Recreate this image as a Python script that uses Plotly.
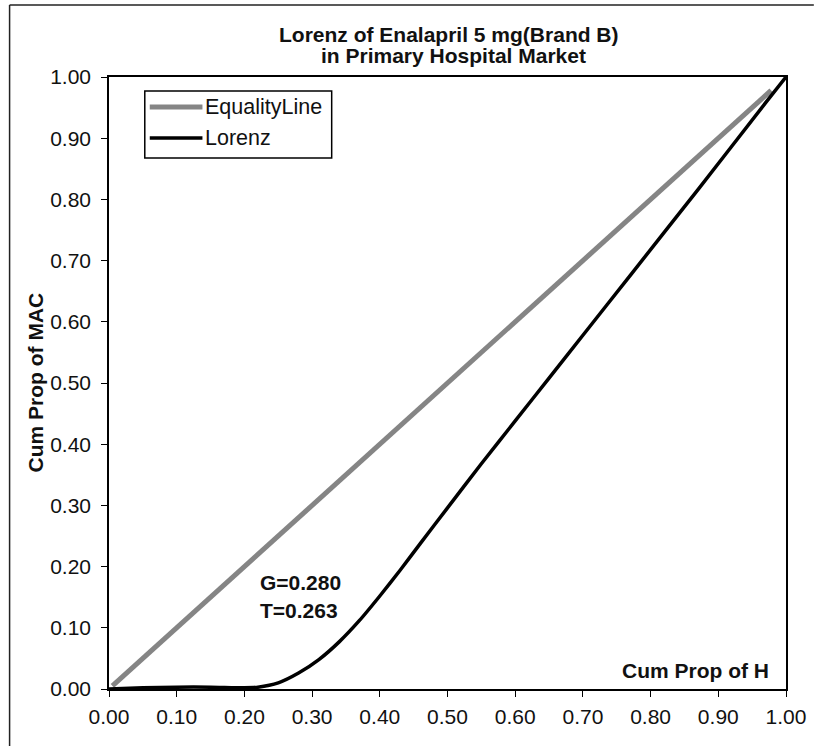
import plotly.graph_objects as go

# Cumulative proportions
equality_x = [0.005, 0.978]
equality_y = [0.005, 0.978]

lorenz_x = [0.00, 0.05, 0.10, 0.15, 0.20, 0.22, 0.25, 0.28, 0.31, 0.34, 0.37,
            0.40, 0.43, 0.46, 0.50, 0.55, 0.60, 0.65, 0.70, 0.77, 0.87, 0.97, 1.00]
lorenz_y = [0.000, 0.002, 0.003, 0.003, 0.002, 0.003, 0.010, 0.026, 0.048, 0.077, 0.112,
            0.152, 0.194, 0.238, 0.296, 0.368, 0.438, 0.508, 0.578, 0.676, 0.816, 0.958, 1.000]

tick_vals = [0.0, 0.1, 0.2, 0.3, 0.4, 0.5, 0.6, 0.7, 0.8, 0.9, 1.0]
tick_text = ["0.00", "0.10", "0.20", "0.30", "0.40", "0.50",
             "0.60", "0.70", "0.80", "0.90", "1.00"]

gini_text = "G=0.280"
theil_text = "T=0.263"

FONT = "Liberation Sans, Arial, sans-serif"
EQ_STYLE = dict(color="#858585", width=5)
LZ_STYLE = dict(color="#000000", width=3.5)

fig = go.Figure()
fig.add_trace(go.Scatter(
    x=equality_x, y=equality_y, mode="lines", name="EqualityLine",
    line=EQ_STYLE, showlegend=False,
))
fig.add_trace(go.Scatter(
    x=lorenz_x, y=lorenz_y, mode="lines", name="Lorenz",
    line=dict(**LZ_STYLE, shape="spline", smoothing=0.6), showlegend=False,
))

# plot area: x 109..790 px, y 77..689 px
L, R, T, B = 109, 28, 77, 57
W, H = 818, 746
pw, ph = W - L - R, H - T - B


def px_x(p):
    return (p - L) / pw


def px_y(p):
    return (H - B - p) / ph


axis_common = dict(
    range=[0, 1], tickvals=tick_vals, ticktext=tick_text,
    showgrid=False, zeroline=False, showline=True, linecolor="black",
    linewidth=1.5, mirror=True, ticks="outside", ticklen=6, tickwidth=1.2,
    tickcolor="black", tickfont=dict(family=FONT, size=21, color="#111"),
)


def text_note(text, x, y, xanchor="left", size=21, bold=True, angle=0):
    return dict(text=f"<b>{text}</b>" if bold else text, xref="paper", yref="paper",
                x=px_x(x), y=px_y(y), xanchor=xanchor, yanchor="middle",
                textangle=angle, showarrow=False,
                font=dict(family=FONT, size=size, color="#111"))


# legend box with line samples and labels
legend_rows = [("EqualityLine", EQ_STYLE, 107), ("Lorenz", LZ_STYLE, 138)]
legend_shapes = [dict(type="rect", xref="paper", yref="paper",
                      x0=px_x(145), x1=px_x(333), y0=px_y(91), y1=px_y(158),
                      fillcolor="white", line=dict(color="black", width=1.5))]
legend_notes = []
for label, style, yc in legend_rows:
    legend_shapes.append(dict(type="line", xref="paper", yref="paper",
                              x0=px_x(150), x1=px_x(203), y0=px_y(yc), y1=px_y(yc),
                              line=style))
    legend_notes.append(text_note(label, 204, yc, size=21.5, bold=False))

fig.update_layout(
    width=W, height=H,
    margin=dict(l=L, r=R, t=T, b=B),
    paper_bgcolor="white", plot_bgcolor="white",
    font=dict(family=FONT, color="#111"),
    xaxis=dict(**axis_common, ticklabelstandoff=2),
    yaxis=dict(**axis_common, ticklabelstandoff=6),
    showlegend=False,
    annotations=[
        text_note("Lorenz of Enalapril 5 mg(Brand B)", 451, 34, xanchor="center"),
        text_note("in Primary Hospital Market", 456, 56, xanchor="center"),
        text_note("Cum Prop of MAC", 35, 382, xanchor="center", angle=-90),
        text_note("Cum Prop of H", 775, 670, xanchor="right"),
        text_note(gini_text, 259, 582),
        text_note(theil_text, 259, 610),
    ] + legend_notes,
    shapes=[
        # outer frame (left and top edges)
        dict(type="line", xref="paper", yref="paper",
             x0=px_x(9), y0=px_y(5), x1=px_x(9), y1=px_y(746),
             line=dict(color="#222", width=1.5)),
        dict(type="line", xref="paper", yref="paper",
             x0=px_x(9), y0=px_y(5), x1=px_x(818), y1=px_y(5),
             line=dict(color="#222", width=1.5)),
    ] + legend_shapes,
)

fig.write_html("out.html")
